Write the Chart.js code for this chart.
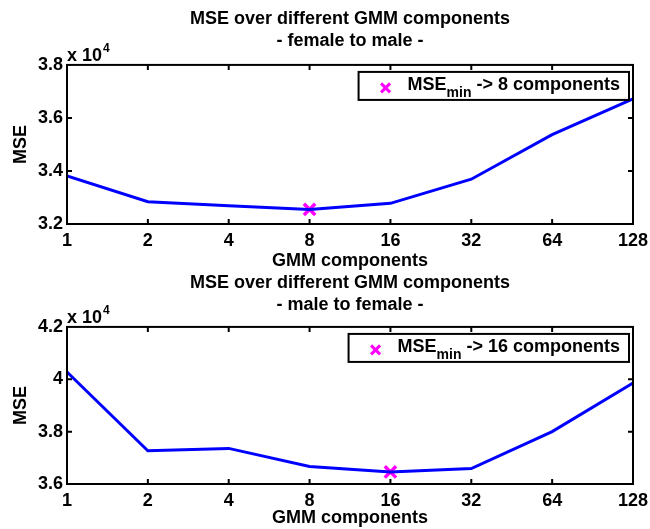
<!DOCTYPE html>
<html>
<head>
<meta charset="utf-8">
<script src="https://cdn.jsdelivr.net/npm/chart.js@4.4.1/dist/chart.umd.min.js"></script>
<style>
  html, body { margin: 0; padding: 0; background: #fff; overflow: hidden; }
  #wrap { position: relative; width: 650px; height: 529px; }
  canvas { position: absolute; left: 0; }
</style>
</head>
<body>
<div id="wrap">
  <canvas id="topChart" width="650" height="272" style="top:0px;width:650px;height:272px"></canvas>
  <canvas id="bottomChart" width="650" height="257" style="top:272px;width:650px;height:257px"></canvas>
</div>
<script>
// x values (GMM components), plotted on a log axis
const components = [1, 2, 4, 8, 16, 32, 64, 128];

// MSE in units of 10^4
const mseFemaleToMale = [3.381, 3.284, 3.269, 3.255, 3.278, 3.369, 3.537, 3.672];
const mseMaleToFemale = [4.028, 3.727, 3.736, 3.667, 3.646, 3.659, 3.800, 3.986];

// component count with the lowest error
const bestFemaleToMale = 8;
const bestMaleToFemale = 16;

// y tick labels
const ticksFemaleToMale = [3.2, 3.4, 3.6, 3.8];
const ticksMaleToFemale = [3.6, 3.8, 4.0, 4.2];

const mainTitle = 'MSE over different GMM components';
const subTitles = ['- female to male -', '- male to female -'];

const FONT = "'Liberation Sans', Arial, Helvetica, sans-serif";
const FS = 18;
Chart.defaults.font.family = FONT;
Chart.defaults.color = '#000';

// box around the plot with inward ticks on all four sides (matlab style)
const frameTicks = {
  id: 'frameTicks',
  afterDatasetsDraw(chart) {
    const { ctx, chartArea: a, scales: { x, y } } = chart;
    const len = 5;
    ctx.save();
    ctx.strokeStyle = '#000';
    ctx.lineWidth = 2;
    ctx.beginPath();
    x.ticks.forEach(t => {
      const px = x.getPixelForValue(t.value);
      if (px <= a.left + 1 || px >= a.right - 1) return;
      ctx.moveTo(px, a.bottom); ctx.lineTo(px, a.bottom - len);
      ctx.moveTo(px, a.top); ctx.lineTo(px, a.top + len);
    });
    y.ticks.forEach(t => {
      const py = y.getPixelForValue(t.value);
      if (py <= a.top + 1 || py >= a.bottom - 1) return;
      ctx.moveTo(a.left, py); ctx.lineTo(a.left + len, py);
      ctx.moveTo(a.right, py); ctx.lineTo(a.right - len, py);
    });
    ctx.stroke();
    ctx.strokeRect(a.left, a.top, a.right - a.left, a.bottom - a.top);

    // "x 10^4" multiplier above the y axis
    ctx.fillStyle = '#000';
    ctx.textBaseline = 'alphabetic';
    ctx.textAlign = 'left';
    ctx.font = 'bold ' + FS + 'px ' + FONT;
    const base = 'x 10';
    ctx.fillText(base, a.left, a.top - 4);
    const w = ctx.measureText(base).width;
    ctx.font = 'bold 12px ' + FONT;
    ctx.fillText('4', a.left + w + 1, a.top - 13);
    ctx.restore();
  }
};

// legend box in the top right corner, with a subscript in the label
const boxLegend = {
  id: 'boxLegend',
  afterDraw(chart) {
    const ds = chart.data.datasets[1];
    const { ctx, chartArea: a } = chart;
    const parts = ds.legendParts;
    ctx.save();
    ctx.textBaseline = 'alphabetic';
    ctx.font = 'bold ' + FS + 'px ' + FONT;
    const w1 = ctx.measureText(parts[0]).width;
    const w3 = ctx.measureText(parts[2]).width;
    ctx.font = 'bold 14px ' + FONT;
    const w2 = ctx.measureText(parts[1]).width;
    const textW = w1 + w2 + w3;

    const right = a.right - 4;
    const left = right - (textW + 49 + 9);
    const top = a.top + 7;
    const h = 28;
    ctx.fillStyle = '#fff';
    ctx.fillRect(left, top, right - left, h);
    ctx.strokeStyle = '#000';
    ctx.lineWidth = 2;
    ctx.strokeRect(left, top, right - left, h);

    // marker
    const mx = left + 27, my = top + h / 2 + 2, r = 4.5;
    ctx.strokeStyle = ds.borderColor;
    ctx.lineWidth = 3;
    ctx.beginPath();
    ctx.moveTo(mx - r, my - r); ctx.lineTo(mx + r, my + r);
    ctx.moveTo(mx + r, my - r); ctx.lineTo(mx - r, my + r);
    ctx.stroke();

    // text
    ctx.fillStyle = '#000';
    let tx = left + 49;
    const by = top + h / 2 + 4;
    ctx.font = 'bold ' + FS + 'px ' + FONT;
    ctx.fillText(parts[0], tx, by);
    tx += w1;
    ctx.font = 'bold 14px ' + FONT;
    ctx.fillText(parts[1], tx, by + 7);
    tx += w2;
    ctx.font = 'bold ' + FS + 'px ' + FONT;
    ctx.fillText(parts[2], tx, by);
    ctx.restore();
  }
};

function buildChart(canvasId, values, best, yTicks, subTitle, pad) {
  const bestValue = values[components.indexOf(best)];
  return new Chart(document.getElementById(canvasId), {
    type: 'line',
    data: {
      datasets: [
        {
          label: 'MSE',
          data: components.map((c, i) => ({ x: c, y: values[i] })),
          borderColor: '#0000ff',
          borderWidth: 3,
          pointRadius: 0,
          tension: 0,
          fill: false
        },
        {
          label: 'MSEmin -> ' + best + ' components',
          legendParts: ['MSE', 'min', ' -> ' + best + ' components'],
          data: [{ x: best, y: bestValue }],
          showLine: false,
          pointStyle: 'crossRot',
          pointRadius: 8,
          borderWidth: 3.5,
          borderColor: '#ff00ff',
          backgroundColor: '#ff00ff'
        }
      ]
    },
    options: {
      responsive: false,
      animation: false,
      devicePixelRatio: 1,
      layout: { padding: { left: 0, right: 17, top: 0, bottom: 0 } },
      plugins: {
        legend: { display: false },
        tooltip: { enabled: false },
        title: {
          display: true,
          fullSize: false,
          text: [mainTitle, subTitle],
          color: '#000',
          font: { size: FS, weight: 'bold', lineHeight: 1.22 },
          padding: { top: pad.titleTop, bottom: pad.titleBottom }
        }
      },
      scales: {
        x: {
          type: 'logarithmic',
          min: components[0],
          max: components[components.length - 1],
          afterBuildTicks: s => { s.ticks = components.map(v => ({ value: v })); },
          afterFit: s => { s.height = pad.xHeight; s.paddingLeft = 0; s.paddingRight = 0; },
          grid: { display: false, drawTicks: false },
          border: { display: false },
          ticks: {
            autoSkip: false,
            maxRotation: 0,
            padding: 6,
            color: '#000',
            font: { size: FS, weight: 'bold' },
            callback: v => String(v)
          },
          title: {
            display: true,
            text: 'GMM components',
            color: '#000',
            font: { size: FS, weight: 'bold' },
            padding: { top: 0, bottom: pad.xTitleBottom }
          }
        },
        y: {
          min: yTicks[0],
          max: yTicks[yTicks.length - 1],
          afterBuildTicks: s => { s.ticks = yTicks.map(v => ({ value: v })); },
          afterFit: s => { s.width = 67; },
          grid: { display: false, drawTicks: false },
          border: { display: false },
          ticks: {
            padding: 4,
            color: '#000',
            font: { size: FS, weight: 'bold' },
            callback: v => String(+v.toFixed(1))
          },
          title: {
            display: true,
            text: 'MSE',
            color: '#000',
            font: { size: FS, weight: 'bold' },
            padding: { top: 10, bottom: 0 }
          }
        }
      }
    },
    plugins: [frameTicks, boxLegend]
  });
}

buildChart('topChart', mseFemaleToMale, bestFemaleToMale, ticksFemaleToMale, subTitles[0],
  { titleTop: 8, titleBottom: 13, xHeight: 48, xTitleBottom: 0 });
buildChart('bottomChart', mseMaleToFemale, bestMaleToFemale, ticksMaleToFemale, subTitles[1],
  { titleTop: 0, titleBottom: 11, xHeight: 45, xTitleBottom: 0 });
</script>
</body>
</html>
